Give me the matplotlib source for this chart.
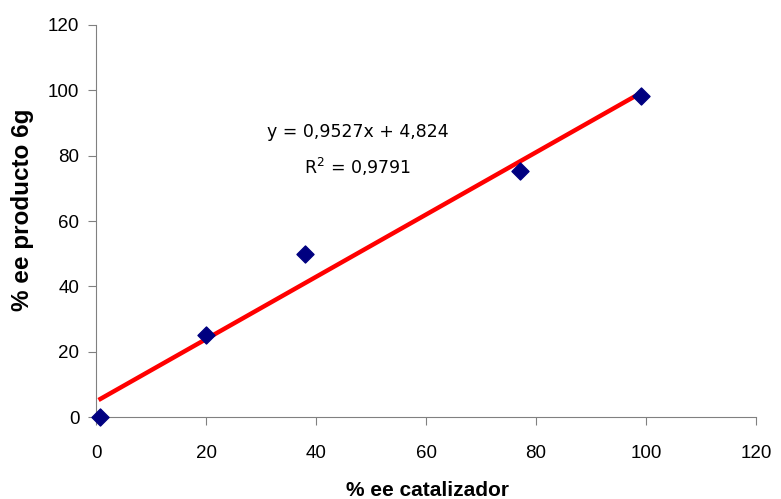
import matplotlib.pyplot as plt
import numpy as np

plt.rcParams['font.family'] = ['Liberation Sans', 'DejaVu Sans']

ee_cat = [0.8, 20, 38, 77, 99]
ee_prod = [0, 25, 50, 75.3, 98.3]
slope = 0.9527
intercept = 4.824

fig = plt.figure(figsize=(7.81, 4.99), dpi=100)
ax = fig.add_axes([0.123, 0.164, 0.845, 0.786])

xl = np.array([min(ee_cat), max(ee_cat)])
ax.plot(xl, slope * xl + intercept, color='#ff0000', lw=3.2, zorder=2)
ax.scatter(ee_cat, ee_prod, marker='D', s=75, color='#000080', zorder=3, clip_on=False)

# trendline label
ax.text(47.6, 87.3, 'y = 0,9527x + 4,824', ha='center', va='center',
        fontsize=12.5, family='DejaVu Sans')
ax.text(47.6, 76.5, 'R$^2$ = 0,9791', ha='center', va='center',
        fontsize=12.5, family='DejaVu Sans')

ax.set_xlim(0, 120)
ax.set_ylim(0, 120)
ax.set_xticks(range(0, 121, 20))
ax.set_yticks(range(0, 121, 20))
for s in ['top', 'right']:
    ax.spines[s].set_visible(False)
for s in ['left', 'bottom']:
    ax.spines[s].set_color('#808080')
ax.tick_params(direction='out', length=6, color='#808080', labelsize=13.5)
ax.tick_params(axis='x', pad=14)
ax.tick_params(axis='y', pad=6)

fig.text(428 / 781, 1 - 490 / 499, '% ee catalizador', ha='center', va='center',
         fontsize=15, fontweight='bold')
fig.text(23 / 781, 1 - 210 / 499, '% ee producto 6g', ha='center', va='center',
         rotation=90, fontsize=17.5, fontweight='bold')

fig.savefig('out.png', dpi=100)
